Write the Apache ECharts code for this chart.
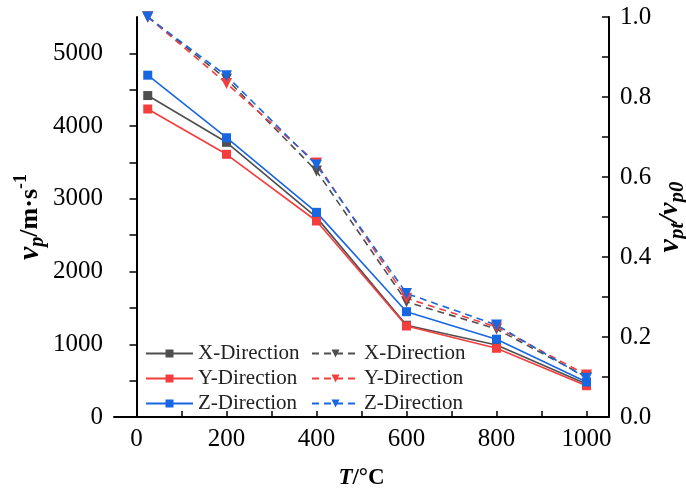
<!DOCTYPE html>
<html>
<head>
<meta charset="utf-8">
<script src="https://cdn.jsdelivr.net/npm/echarts@6/dist/echarts.min.js"></script>
<style>html,body{margin:0;padding:0;background:#fff}#c{width:686px;height:492px}</style>
</head>
<body>
<div id="c"></div>
<script>
// ---- data ----
var temps = [25, 200, 400, 600, 800, 1000];
var vpX = [4420, 3777, 2745, 1262, 990, 455];
var vpY = [4235, 3612, 2695, 1251, 945, 430];
var vpZ = [4700, 3840, 2814, 1448, 1070, 482];
var ratioX = [1.0, 0.845, 0.615, 0.288, 0.22, 0.100];
var ratioY = [1.0, 0.834, 0.635, 0.297, 0.225, 0.105];
var ratioZ = [1.0, 0.853, 0.630, 0.309, 0.230, 0.097];
var xLabels = [0, 200, 400, 600, 800, 1000];
var xTicks = [0, 100, 200, 300, 400, 500, 600, 700, 800, 900, 1000];
var yLabels = [0, 1000, 2000, 3000, 4000, 5000];
var yTicks = [0, 500, 1000, 1500, 2000, 2500, 3000, 3500, 4000, 4500, 5000];
var rLabels = [0, 0.2, 0.4, 0.6, 0.8, 1.0];
var rTicks = [0, 0.1, 0.2, 0.3, 0.4, 0.5, 0.6, 0.7, 0.8, 0.9, 1.0];
var names = ['X-Direction', 'Y-Direction', 'Z-Direction'];
var colors = ['#4f4f4f', '#f53d3d', '#1767e3'];

function pairs(v) { return temps.map(function (t, i) { return [t, v[i]]; }); }

var serif = '"Liberation Serif","Times New Roman",serif';
var axisLine = { show: true, lineStyle: { color: '#000', width: 2 } };
var labelStyle = { color: '#000', fontFamily: serif, fontSize: 25 };
function plain(v) { return String(v); }

var solid = [vpX, vpY, vpZ].map(function (v, i) {
  return {
    name: names[i], type: 'line', yAxisIndex: 0, data: pairs(v),
    symbol: 'rect', symbolSize: 9, color: colors[i],
    lineStyle: { color: colors[i], width: 1.6 }, itemStyle: { color: colors[i] }, z: 2
  };
});
var dashed = [ratioX, ratioY, ratioZ].map(function (v, i) {
  return {
    name: names[i] + '_r', type: 'line', yAxisIndex: 1, data: pairs(v),
    symbol: 'triangle', symbolRotate: 180, symbolSize: 11, color: colors[i],
    lineStyle: { color: colors[i], width: 1.6, type: [7, 5] }, itemStyle: { color: colors[i] }, z: 3
  };
});

var chart = echarts.init(document.getElementById('c'));
var legendBase = {
  orient: 'vertical', itemWidth: 47, itemHeight: 10, itemGap: 4,
  textStyle: { fontFamily: serif, fontSize: 21, color: '#222', lineHeight: 20.5 },
  formatter: function (n) { return n.replace('_r', ''); },
  selectedMode: false
};
chart.setOption({
  animation: false,
  grid: { left: 114, right: 77, top: 17, bottom: 75, containLabel: false, outerBoundsMode: 'none' },
  legend: [
    Object.assign({}, legendBase, { left: 140, top: 338, data: names }),
    Object.assign({}, legendBase, { left: 306, top: 338, data: names.map(function (n) { return n + '_r'; }) })
  ],
  xAxis: {
    type: 'value', min: -50, max: 1050,
    axisLine: axisLine,
    axisTick: { show: true, inside: true, length: 6, customValues: xTicks, lineStyle: { color: '#000', width: 1.5 } },
    axisLabel: Object.assign({ margin: 10, customValues: xLabels, formatter: plain }, labelStyle),
    splitLine: { show: false },
    name: '{t|T}{c|/°C}', nameLocation: 'middle', nameGap: 50, nameMoveOverlap: false,
    nameTextStyle: {
      rich: {
        t: { fontFamily: serif, fontSize: 23, fontWeight: 'bold', fontStyle: 'italic', color: '#000' },
        c: { fontFamily: serif, fontSize: 23, fontWeight: 'bold', color: '#000' }
      }
    }
  },
  yAxis: [{
    type: 'value', min: 0, max: 5500, position: 'left',
    axisLine: axisLine,
    axisTick: { show: true, inside: false, length: 7, customValues: yTicks, lineStyle: { color: '#000', width: 1.5 } },
    axisLabel: Object.assign({ margin: 11, customValues: yLabels, formatter: plain }, labelStyle),
    splitLine: { show: false },
    name: '{v|v}{p|p}{t|/m·s}{s|-1}', nameLocation: 'middle', nameGap: 66, nameRotate: 90, nameMoveOverlap: false,
    nameTextStyle: {
      rich: {
        v: { fontFamily: serif, fontSize: 30, fontWeight: 'bold', fontStyle: 'italic', color: '#000', lineHeight: 36, verticalAlign: 'middle' },
        p: { fontFamily: serif, fontSize: 20, fontWeight: 'bold', fontStyle: 'italic', color: '#000', lineHeight: 36, verticalAlign: 'bottom' },
        t: { fontFamily: serif, fontSize: 26, fontWeight: 'bold', color: '#000', lineHeight: 36, verticalAlign: 'middle' },
        s: { fontFamily: serif, fontSize: 18, fontWeight: 'bold', color: '#000', lineHeight: 36, verticalAlign: 'top' }
      }
    }
  }, {
    type: 'value', min: 0, max: 1, position: 'right',
    axisLine: axisLine,
    axisTick: { show: true, inside: true, length: 7, customValues: rTicks, lineStyle: { color: '#000', width: 1.5 } },
    axisLabel: Object.assign({ margin: 11, customValues: rLabels, formatter: function (v) { return v.toFixed(1); } }, labelStyle),
    splitLine: { show: false },
    name: '{v|v}{p|pt}{t|/v}{p|p0}', nameLocation: 'middle', nameGap: 43, nameRotate: 90, nameMoveOverlap: false,
    nameTextStyle: {
      rich: {
        v: { fontFamily: serif, fontSize: 30, fontWeight: 'bold', fontStyle: 'italic', color: '#000', lineHeight: 36, verticalAlign: 'middle' },
        p: { fontFamily: serif, fontSize: 21, fontWeight: 'bold', fontStyle: 'italic', color: '#000', lineHeight: 36, verticalAlign: 'bottom' },
        t: { fontFamily: serif, fontSize: 28, fontWeight: 'bold', fontStyle: 'italic', color: '#000', lineHeight: 36, verticalAlign: 'middle' }
      }
    }
  }],
  series: solid.concat(dashed)
});
</script>
</body>
</html>
